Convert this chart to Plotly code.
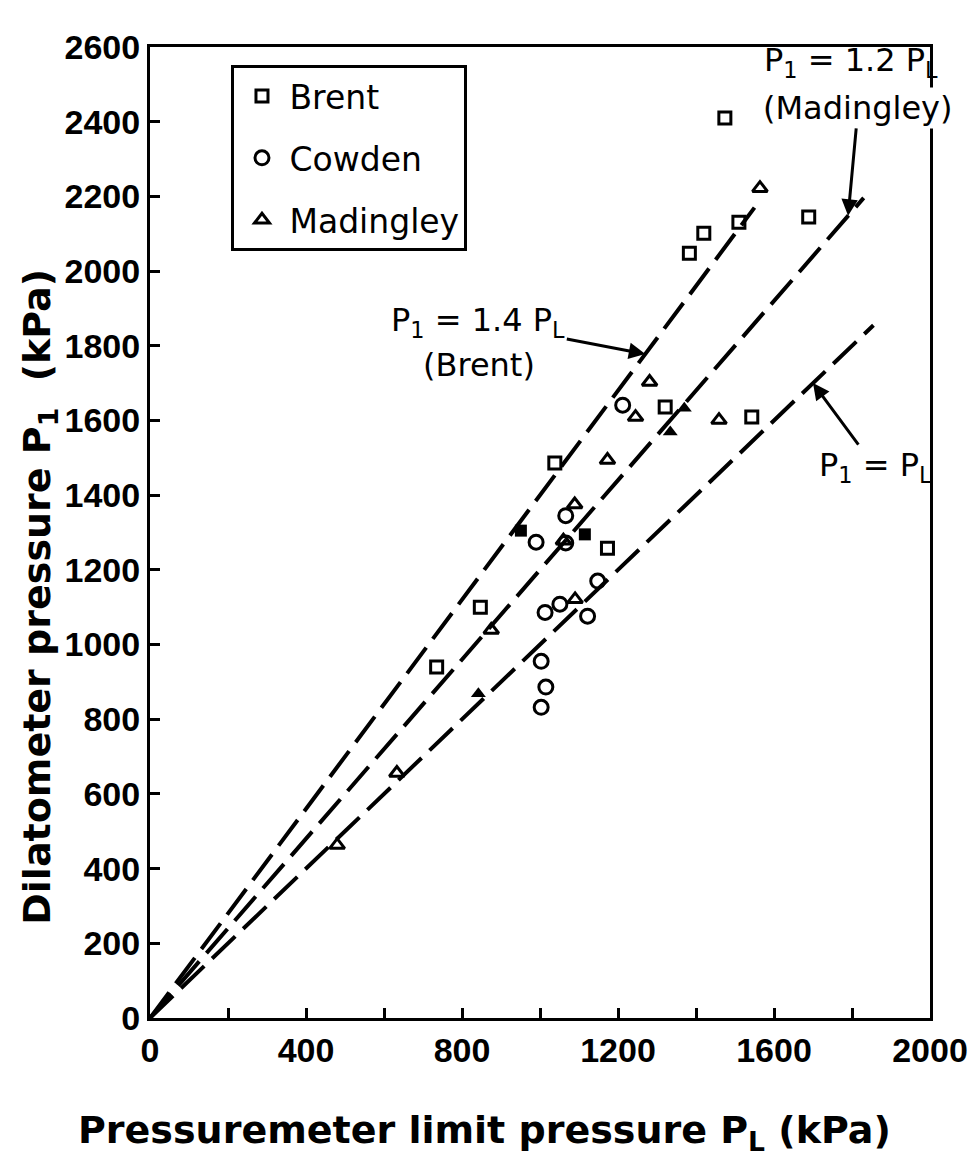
import plotly.graph_objects as go

# ---------------- data ----------------
brent_x = [1474, 1689, 1510, 1420, 1383, 1321, 1543, 1038, 1173, 847, 735]
brent_y = [2410, 2145, 2131, 2101, 2048, 1636, 1609, 1486, 1258, 1100, 940]
brent_fill_x = [951, 1115]
brent_fill_y = [1305, 1295]

cowden_x = [1212, 1066, 990, 1066, 1148, 1013, 1051, 1122, 1003, 1015, 1003]
cowden_y = [1641, 1345, 1274, 1272, 1170, 1086, 1108, 1076, 955, 886, 832]

mad_x = [1564, 1281, 1245, 1173, 1089, 1459, 1090, 1060, 875, 633, 480]
mad_y = [2222, 1703, 1609, 1494, 1375, 1601, 1121, 1278, 1039, 656, 463]
mad_fill_x = [1334, 1370, 842]
mad_fill_y = [1569, 1633, 868]

line_ratio = [1.4, 1.2, 1.0]
line_end_x = [1550, 1830, 1855]
arrow_x = [1270, 1790, 1700]

x_ticks = [0, 400, 800, 1200, 1600, 2000]
x_minor_step = 200
y_ticks = [0, 200, 400, 600, 800, 1000, 1200, 1400, 1600, 1800, 2000, 2200, 2400, 2600]

# ---------------- figure ----------------
fig = go.Figure()

dash = "32px,11px"
for r, xe in zip(line_ratio, line_end_x):
    fig.add_trace(go.Scatter(x=[0, xe], y=[0, r * xe], mode="lines",
                             line=dict(color="black", width=4, dash=dash),
                             showlegend=False, hoverinfo="skip"))

mk_line = dict(color="black", width=3)
fig.add_trace(go.Scatter(x=brent_x, y=brent_y, mode="markers", name="Brent",
                         legendgroup="b",
                         marker=dict(symbol="square-open", size=12, color="black", line=mk_line)))
fig.add_trace(go.Scatter(x=brent_fill_x, y=brent_fill_y, mode="markers", showlegend=False,
                         legendgroup="b",
                         marker=dict(symbol="square", size=12, color="black")))
fig.add_trace(go.Scatter(x=cowden_x, y=cowden_y, mode="markers", name="Cowden",
                         legendgroup="c",
                         marker=dict(symbol="circle-open", size=14, color="black", line=mk_line)))
fig.add_trace(go.Scatter(x=mad_x, y=mad_y, mode="markers", name="Madingley",
                         legendgroup="m",
                         marker=dict(symbol="triangle-up-open", size=13, color="black", line=mk_line)))
fig.add_trace(go.Scatter(x=mad_fill_x, y=mad_fill_y, mode="markers", showlegend=False,
                         legendgroup="m",
                         marker=dict(symbol="triangle-up", size=13, color="black")))

tick_font = dict(family="Liberation Sans", size=34, color="black", weight="bold")
title_font = dict(family="DejaVu Sans", size=38, color="black", weight="bold")
ann_font = dict(family="DejaVu Sans", size=32, color="black")

L, R, T, B = 150, 45, 47, 149
PW, PH = 980 - L - R, 1167 - T - B


def px(xp):
    return (xp - L) / PW


def py(yp):
    return (1167 - B - yp) / PH


fig.update_layout(
    width=980, height=1167,
    margin=dict(l=L, r=R, t=T, b=B),
    paper_bgcolor="white", plot_bgcolor="white",
    showlegend=True,
    legend=dict(x=px(232), y=py(65), xanchor="left", yanchor="top",
                bordercolor="black", borderwidth=3, bgcolor="white",
                font=dict(family="DejaVu Sans", size=33, color="black"),
                tracegroupgap=16, itemsizing="trace", itemwidth=45),
    xaxis=dict(range=[0, 2000], tickvals=x_ticks,
               ticks="inside", ticklen=10, tickwidth=3, tickcolor="black",
               minor=dict(dtick=x_minor_step, tick0=0, ticks="inside", ticklen=10,
                          tickwidth=3, tickcolor="black", showgrid=False),
               showline=True, linewidth=3, linecolor="black", mirror=True,
               showgrid=False, zeroline=False, tickfont=tick_font),
    yaxis=dict(range=[0, 2600], tickvals=y_ticks,
               ticks="inside", ticklen=10, tickwidth=3, tickcolor="black",
               showline=True, linewidth=3, linecolor="black", mirror=True,
               showgrid=False, zeroline=False, tickfont=tick_font),
)

# axis titles
fig.add_annotation(xref="paper", yref="paper", x=px(487), y=py(1132),
                   xanchor="center", yanchor="middle", showarrow=False,
                   text="Pressuremeter limit pressure P<sub>L</sub> (kPa)", font=title_font)
fig.add_annotation(xref="paper", yref="paper", x=px(38), y=py(597),
                   xanchor="center", yanchor="middle", showarrow=False, textangle=-90,
                   text="Dilatometer pressure P<sub>1</sub>  (kPa)", font=title_font)

# labels for the reference lines; arrows drawn from the label to the line
# (head on the line, offsets = label centre relative to the head, in pixels)
arrow_labels = ["P<sub>1</sub> = 1.4 P<sub>L</sub>", "(Madingley)", "P<sub>1</sub> = P<sub>L</sub>"]
label_offsets = [(-167, -32), (10, -108), (62, 84)]
label_bg = ["rgba(0,0,0,0)", "white", "rgba(0,0,0,0)"]
for txt, xa, r, (dx, dy), bg in zip(arrow_labels, arrow_x, line_ratio, label_offsets, label_bg):
    fig.add_annotation(x=xa, y=r * xa, ax=dx, ay=dy, text=txt, showarrow=True,
                       arrowhead=2, arrowsize=1.1, arrowwidth=3, arrowcolor="black",
                       font=ann_font, bgcolor=bg)

plain_labels = [
    ("P<sub>1</sub> = 1.2 P<sub>L</sub>", 855, 62),
    ("(Brent)", 481, 365),
]
for txt, xp, yp in plain_labels:
    fig.add_annotation(xref="paper", yref="paper", x=px(xp), y=py(yp),
                       xanchor="center", yanchor="middle", showarrow=False,
                       text=txt, font=ann_font)

fig.write_html("out.html")
